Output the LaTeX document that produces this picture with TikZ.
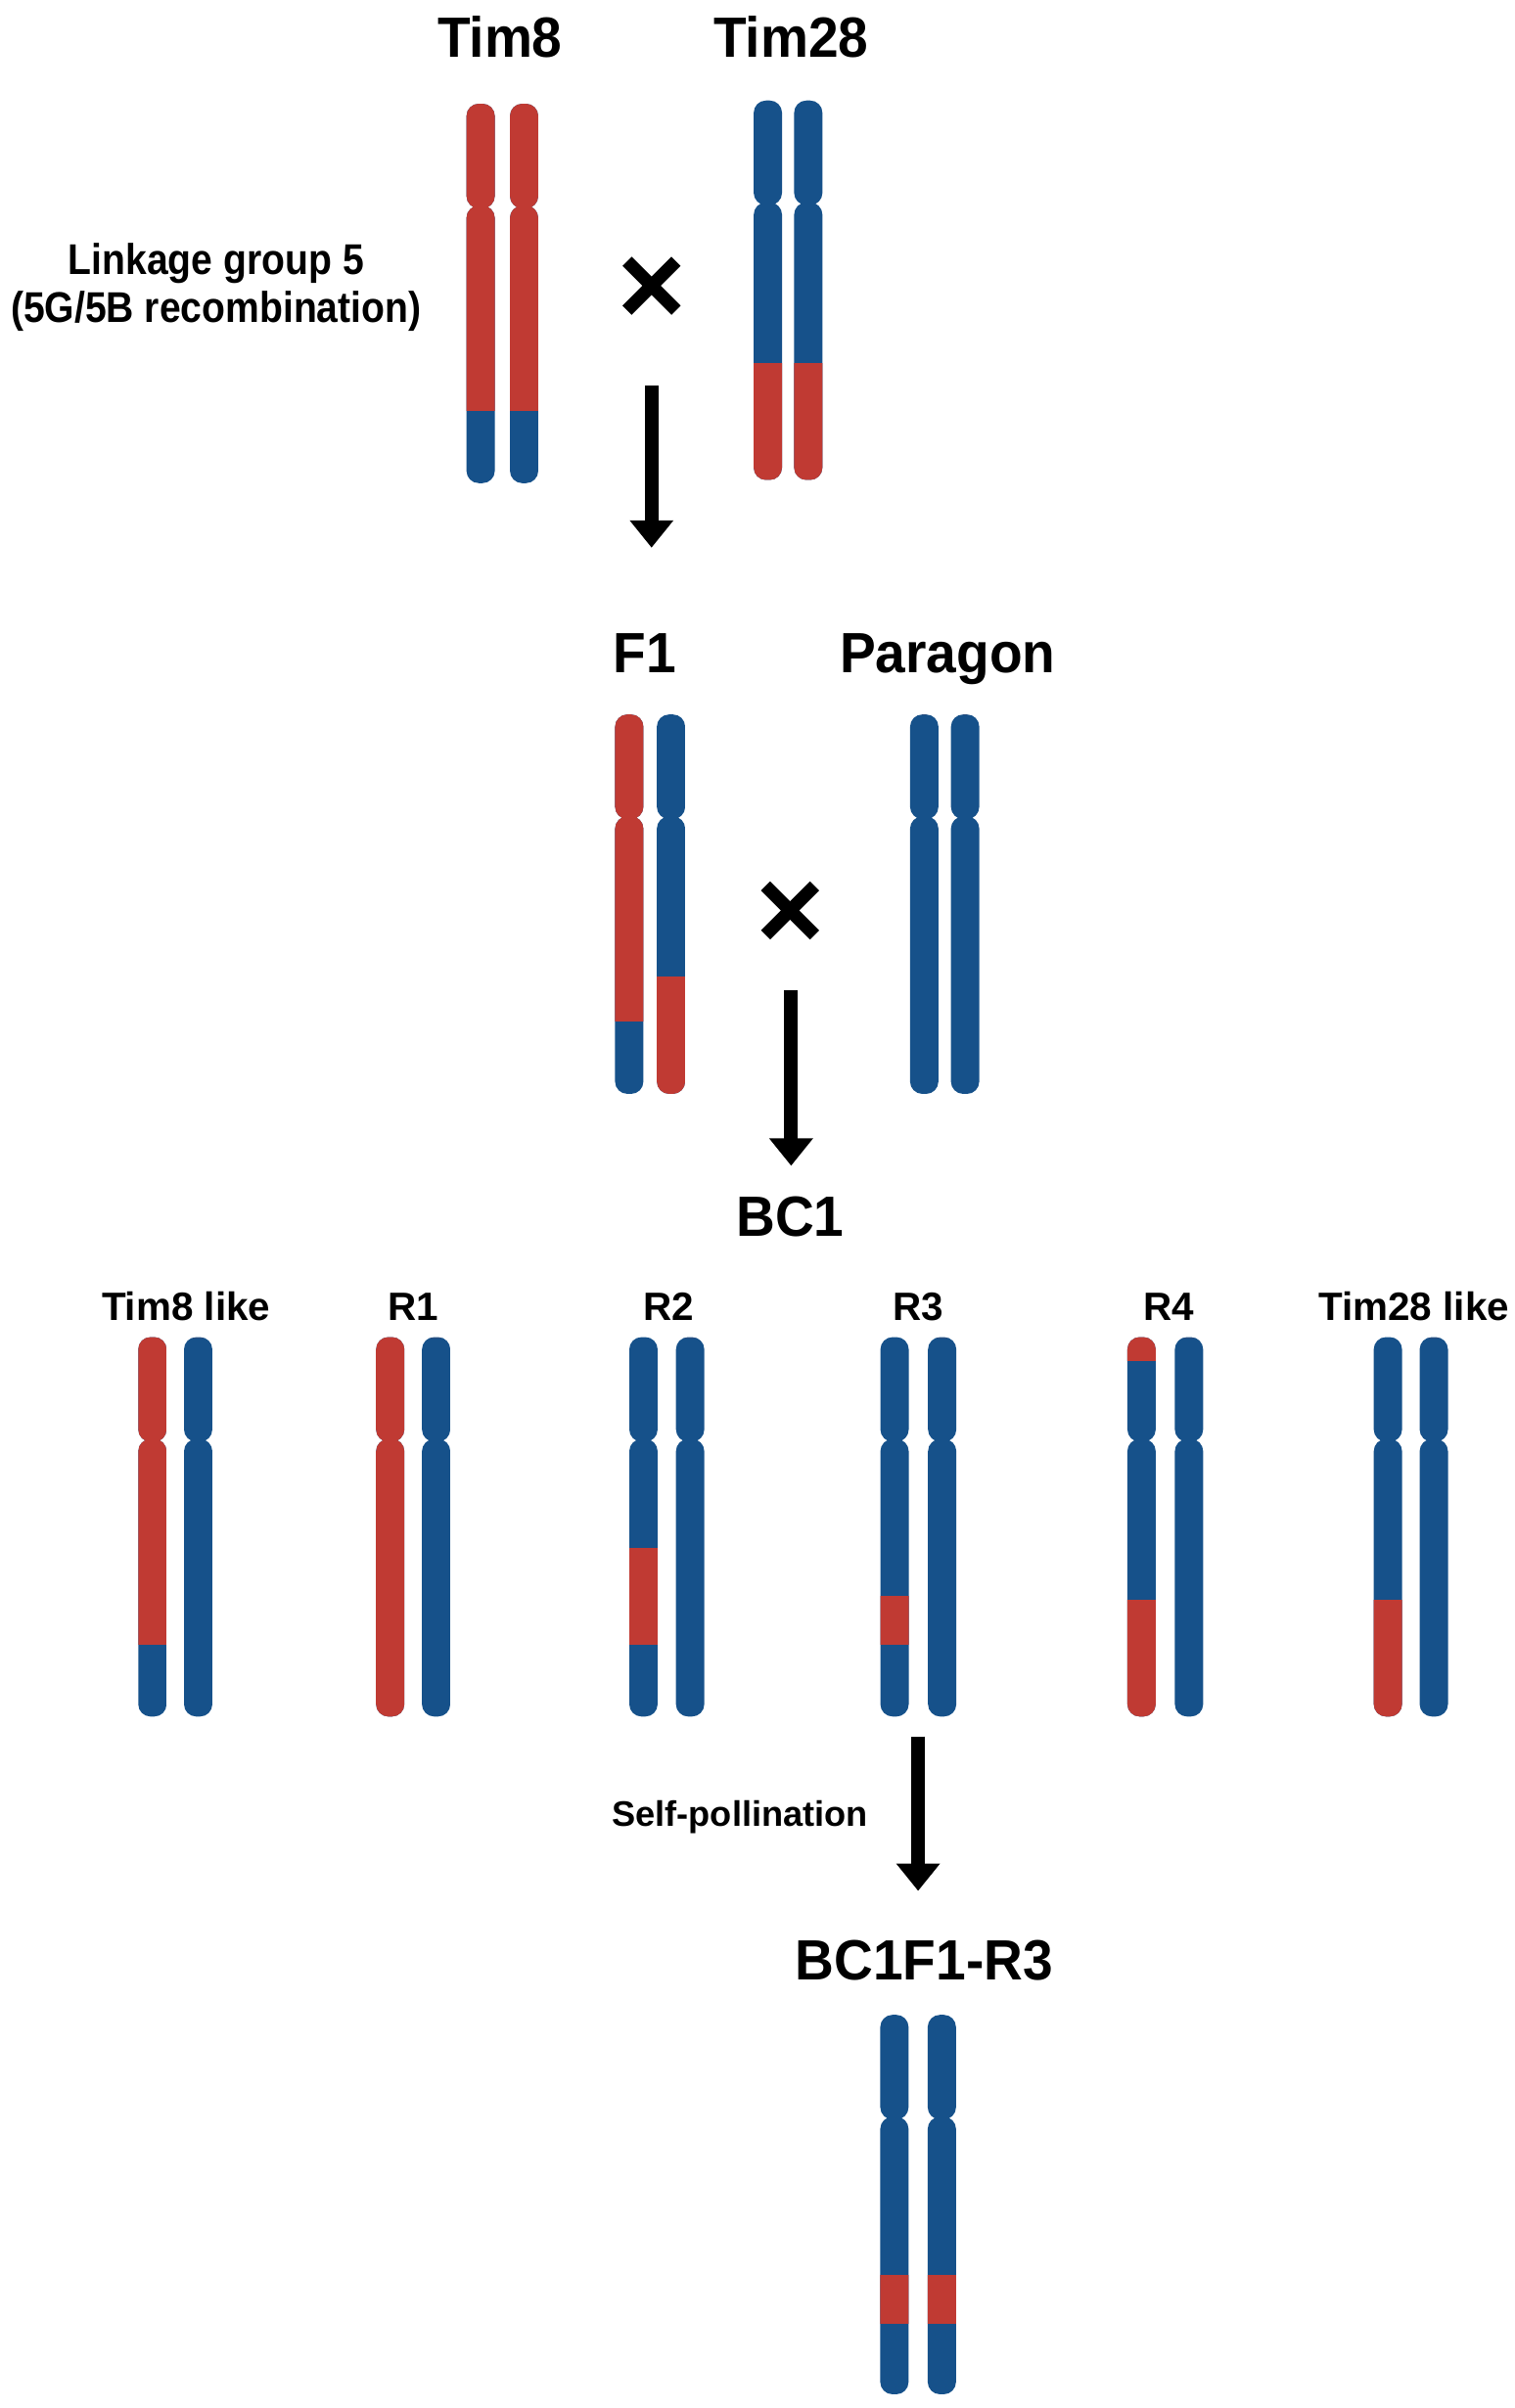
\documentclass[tikz,border=0pt]{standalone}
\usepackage{fontspec}
\setmainfont{Liberation Sans}
\newfontfamily\titlefont[FakeStretch=0.95]{Liberation Sans}
\newfontfamily\linkfont[FakeStretch=0.89]{Liberation Sans}
\usetikzlibrary{arrows.meta}
\definecolor{chrred}{RGB}{192,58,51}
\definecolor{chrblue}{RGB}{22,81,138}

\begin{document}
\begin{tikzpicture}[x=0.15636mm,y=-0.15636mm,
  title/.style={anchor=base,font=\titlefont\bfseries\fontsize{16.5}{19}\selectfont},
  rowlabel/.style={anchor=base,font=\bfseries\fontsize{11.5}{14}\selectfont},
  linklabel/.style={anchor=base,font=\linkfont\bfseries\fontsize{12.5}{15}\selectfont},
  steplabel/.style={anchor=base,font=\bfseries\fontsize{10.3}{12}\selectfont},
  crossmark/.style={line width=1.33mm},
  bigarrow/.style={line width=1.4mm,-{Triangle[width=4.3mm,length=2.8mm]}}]

\useasboundingbox (0,0) rectangle (990,1574);

% chromosome: x centre, top, red bands (from/to measured from the top)
\def\chromo#1#2#3{
  \begin{scope}
    \clip[rounded corners=1.25mm] ({#1-9.25},#2) rectangle ({#1+9.25},{#2+68.4})
      ({#1-9.25},{#2+66.6}) rectangle ({#1+9.25},{#2+248});
    \fill[chrblue] ({#1-10},{#2-2}) rectangle ({#1+10},{#2+250});
    \foreach \a/\b in {#3} {\fill[chrred] ({#1-10},{#2+\a}) rectangle ({#1+10},{#2+\b});}
  \end{scope}}

% cross sign between two parents
\def\crossat#1#2{
  \draw[crossmark] ({#1-16},{#2-16}) -- ({#1+16},{#2+16});
  \draw[crossmark] ({#1-16},{#2+16}) -- ({#1+16},{#2-16});}

% Parents
\node[title] (tim8) at (326.7,37.3) {Tim8};
\node[title] (tim28) at (517,37.3) {Tim28};
\node[linklabel] (link1) at (141.2,179.5) {Linkage group 5};
\node[linklabel] (link2) at (141.2,211) {(5G/5B recombination)};
\chromo{314.1}{67.8}{-2/201}
\chromo{342.5}{67.8}{-2/201}
\chromo{501.8}{65.7}{171.5/250}
\chromo{528.2}{65.7}{171.5/250}
\crossat{425.8}{186.8}

% F1 x Paragon
\coordinate (arr1s) at (425.8,252.2);
\coordinate (arr1e) at (425.8,358);
\draw[bigarrow] (arr1s) -- (arr1e);
\node[title] (f1) at (421.4,439.8) {F1};
\node[title] (paragon) at (619.3,439.8) {Paragon};
\chromo{411.2}{467}{-2/201}
\chromo{438.5}{467}{171.5/250}
\chromo{604}{467}{0/0}
\chromo{630.7}{467}{0/0}
\crossat{516.3}{595.1}

% BC1 classes
\coordinate (arr2s) at (517,647.4);
\coordinate (arr2e) at (517,762);
\draw[bigarrow] (arr2s) -- (arr2e);
\node[title] (bc1) at (516.4,808) {BC1};
\node[rowlabel] (tim8like) at (121.6,863) {Tim8 like};
\node[rowlabel] (r1) at (270,863) {R1};
\node[rowlabel] (r2) at (437,863) {R2};
\node[rowlabel] (r3) at (600,863) {R3};
\node[rowlabel] (r4) at (764,863) {R4};
\node[rowlabel] (tim28like) at (924,863) {Tim28 like};
\chromo{99.6}{874}{-2/201}
\chromo{129.5}{874}{0/0}
\chromo{255}{874}{-2/250}
\chromo{285}{874}{0/0}
\chromo{420.5}{874}{137.6/201}
\chromo{451}{874}{0/0}
\chromo{584.6}{874}{169/201}
\chromo{615.7}{874}{0/0}
\chromo{746}{874}{-2/15.5,171.6/250}
\chromo{777}{874}{0/0}
\chromo{907}{874}{171.6/250}
\chromo{937}{874}{0/0}

% selfing of R3
\coordinate (arr3s) at (600,1135);
\coordinate (arr3e) at (600,1236);
\draw[bigarrow] (arr3s) -- (arr3e);
\node[steplabel] (selfing) at (483.6,1193.5) {Self-pollination};
\node[title] (bc1f1) at (604,1294) {BC1F1-R3};
\chromo{584.5}{1317}{170/202}
\chromo{615.5}{1317}{170/202}

\end{tikzpicture}
\end{document}
